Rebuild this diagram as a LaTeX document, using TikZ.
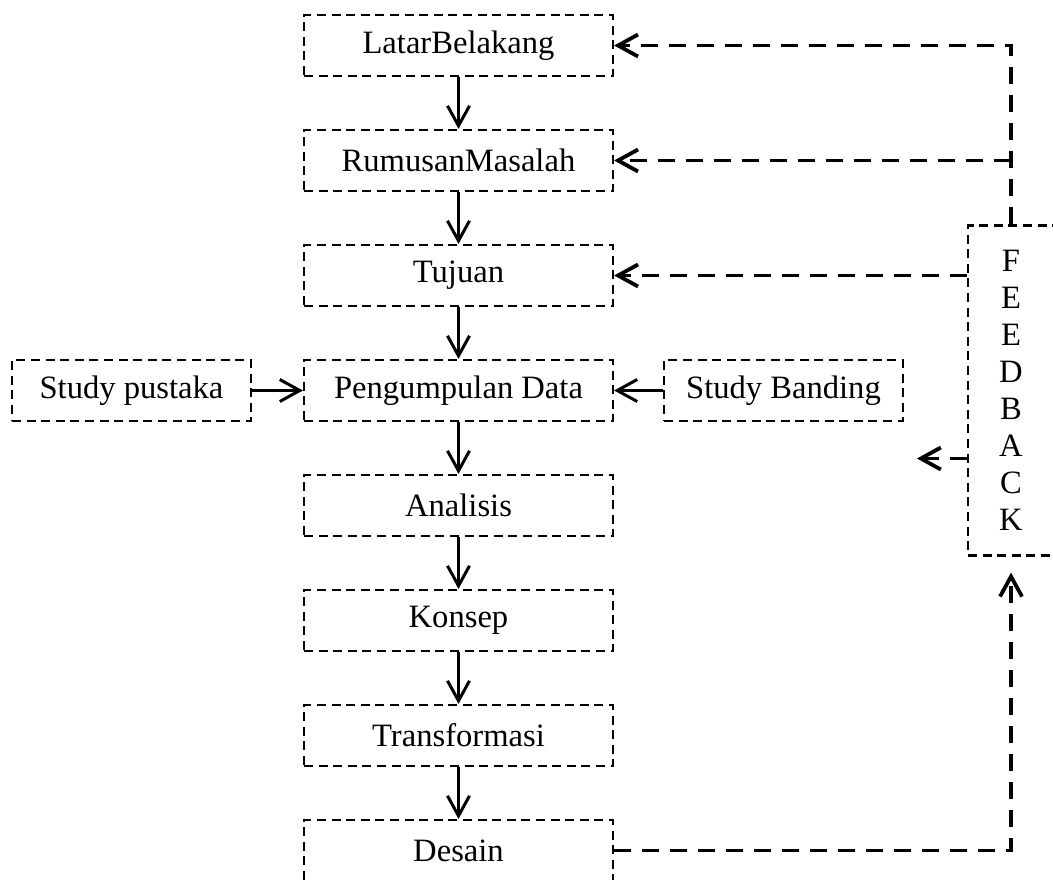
\documentclass[tikz,border=0pt]{standalone}
\usepackage{fontspec}
\setmainfont{Liberation Serif}
\usetikzlibrary{positioning,arrows.meta}

\begin{document}
\begin{tikzpicture}
[box/.style={rectangle,draw,line width=1.1pt,dash pattern=on 4.5pt off 2.8pt,minimum width=154.5pt,minimum height=30.5pt,inner sep=0pt,font=\fontsize{16.3}{18.5}\selectfont},
side/.style={box,minimum width=119.5pt},
flow/.style={-{Straight Barb[length=10pt,width=11pt]},line width=1.5pt},
back/.style={-{Straight Barb[length=10pt,width=11pt]},line width=1.9pt,dash pattern=on 8.5pt off 5.5pt},
node distance=25.9pt]
\useasboundingbox (-229.25pt,22.75pt) rectangle (297.25pt,-416.75pt);
\clip (-229.25pt,22.75pt) rectangle (297.25pt,-416.75pt);
\node[box] (latar) {LatarBelakang};
\node[box] (rumusan) [below=of latar] {RumusanMasalah};
\node[box] (tujuan) [below=of rumusan] {Tujuan};
\node[box] (data) [below=of tujuan] {Pengumpulan Data};
\node[box] (analisis) [below=of data] {Analisis};
\node[box] (konsep) [below=of analisis] {Konsep};
\node[box] (transformasi) [below=of konsep] {Transformasi};
\node[box] (desain) [below=of transformasi] {Desain};
\node[side] (pustaka) [left=25.4pt of data] {Study pustaka};
\node[side] (banding) [right=24.4pt of data] {Study Banding};
\node[box,minimum width=43pt,minimum height=165pt,align=center] (fb) [right=31.4pt of banding] {F\\E\\E\\D\\B\\A\\C\\K};
\coordinate (fbout) at ([xshift=-25pt,yshift=-34pt]fb.west);
\draw [flow] (latar) -- (rumusan);
\draw [flow] (rumusan) -- (tujuan);
\draw [flow] (tujuan) -- (data);
\draw [flow] (data) -- (analisis);
\draw [flow] (analisis) -- (konsep);
\draw [flow] (konsep) -- (transformasi);
\draw [flow] (transformasi) -- (desain);
\draw [flow] (pustaka) -- (data);
\draw [flow] (banding) -- (data);
\draw [back] (fb.north) |- (latar.east);
\draw [back] (fb.north |- rumusan) -- (rumusan.east);
\draw [back] (fb.west |- tujuan) -- (tujuan.east);
\draw [back] (fb.west |- fbout) -- (fbout);
\draw [back] (desain.east) -| ([yshift=-8pt]fb.south);
\end{tikzpicture}
\end{document}
